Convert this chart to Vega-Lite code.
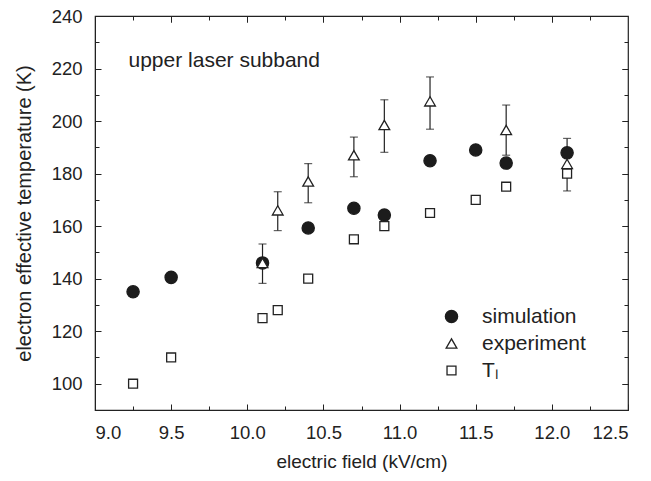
{
  "$schema": "https://vega.github.io/schema/vega-lite/v6.json",
  "width": 533,
  "height": 394,
  "autosize": {"type": "none"},
  "padding": {"left": 95, "top": 16, "right": 23, "bottom": 71},
  "background": "white",
  "config": {
    "view": {"stroke": "#222", "strokeWidth": 1.2},
    "font": "Liberation Sans",
    "axis": {"domainColor": "#222", "tickColor": "#222", "labelColor": "#222", "titleColor": "#222", "grid": false, "labelFont": "Liberation Sans", "titleFont": "Liberation Sans", "labelFontSize": 18.5, "titleFontSize": 19, "titleFontWeight": "normal"},
    "legend": {"labelFont": "Liberation Sans", "labelFontSize": 21, "labelColor": "#222"}
  },
  "datasets": {
    "pts": [
      {"field": 9.25, "series": "simulation", "value": 135},
      {"field": 9.5, "series": "simulation", "value": 140.5},
      {"field": 10.1, "series": "simulation", "value": 146},
      {"field": 10.4, "series": "simulation", "value": 159.3},
      {"field": 10.7, "series": "simulation", "value": 166.8},
      {"field": 10.9, "series": "simulation", "value": 164.2},
      {"field": 11.2, "series": "simulation", "value": 184.9},
      {"field": 11.5, "series": "simulation", "value": 189},
      {"field": 11.7, "series": "simulation", "value": 184},
      {"field": 12.1, "series": "simulation", "value": 187.9},
      {"field": 10.1, "series": "experiment", "value": 146, "lo": 138.2, "hi": 153.2},
      {"field": 10.2, "series": "experiment", "value": 166, "lo": 158.3, "hi": 173.1},
      {"field": 10.4, "series": "experiment", "value": 177, "lo": 168.9, "hi": 183.8},
      {"field": 10.7, "series": "experiment", "value": 187, "lo": 178.8, "hi": 193.9},
      {"field": 10.9, "series": "experiment", "value": 198.5, "lo": 188.1, "hi": 208.1},
      {"field": 11.2, "series": "experiment", "value": 207.5, "lo": 196.9, "hi": 216.8},
      {"field": 11.7, "series": "experiment", "value": 196.6, "lo": 187, "hi": 206.1},
      {"field": 12.1, "series": "experiment", "value": 183.7, "lo": 173.4, "hi": 193.4},
      {"field": 9.25, "series": "T_L", "value": 100},
      {"field": 9.5, "series": "T_L", "value": 110},
      {"field": 10.1, "series": "T_L", "value": 125},
      {"field": 10.2, "series": "T_L", "value": 128},
      {"field": 10.4, "series": "T_L", "value": 140},
      {"field": 10.7, "series": "T_L", "value": 155},
      {"field": 10.9, "series": "T_L", "value": 160},
      {"field": 11.2, "series": "T_L", "value": 165},
      {"field": 11.5, "series": "T_L", "value": 170},
      {"field": 11.7, "series": "T_L", "value": 175},
      {"field": 12.1, "series": "T_L", "value": 180}
    ],
    "note": [{"label": "upper laser subband"}]
  },
  "data": {"name": "pts"},
  "resolve": {"axis": {"x": "independent", "y": "independent"}},
  "layer": [
    {
      "transform": [{"filter": "datum.series === 'experiment'"}],
      "mark": {"type": "rule", "color": "#222", "strokeWidth": 1.2},
      "encoding": {
        "x": {"field": "field", "type": "quantitative", "scale": {"domain": [9, 12.5], "nice": false, "zero": false},
              "axis": {"orient": "top", "values": [9.5, 10, 10.5, 11, 11.5, 12], "labels": false, "domain": false, "tickSize": -6, "title": null}},
        "y": {"field": "lo", "type": "quantitative", "scale": {"domain": [90, 240], "nice": false, "zero": false},
              "axis": {"orient": "right", "values": [100, 120, 140, 160, 180, 200, 220], "labels": false, "domain": false, "tickSize": -6, "title": null}},
        "y2": {"field": "hi"}
      }
    },
    {
      "transform": [{"filter": "datum.series === 'experiment'"}],
      "mark": {"type": "tick", "orient": "horizontal", "size": 8, "thickness": 1.2, "color": "#222"},
      "encoding": {
        "x": {"field": "field", "type": "quantitative",
              "axis": {"orient": "top", "values": [9.25, 9.75, 10.25, 10.75, 11.25, 11.75, 12.25], "labels": false, "domain": false, "tickSize": -4, "title": null}},
        "y": {"field": "hi", "type": "quantitative",
              "axis": {"orient": "right", "values": [110, 130, 150, 170, 190, 210, 230], "labels": false, "domain": false, "tickSize": -4, "title": null}}
      }
    },
    {
      "transform": [{"filter": "datum.series === 'experiment'"}],
      "mark": {"type": "tick", "orient": "horizontal", "size": 8, "thickness": 1.2, "color": "#222"},
      "encoding": {
        "x": {"field": "field", "type": "quantitative",
              "axis": {"orient": "bottom", "values": [9.25, 9.75, 10.25, 10.75, 11.25, 11.75, 12.25], "labels": false, "domain": false, "tickSize": -4, "title": null}},
        "y": {"field": "lo", "type": "quantitative",
              "axis": {"orient": "left", "values": [110, 130, 150, 170, 190, 210, 230], "labels": false, "domain": false, "tickSize": -4, "title": null}}
      }
    },
    {
      "mark": {"type": "point", "strokeWidth": 1.3, "opacity": 1},
      "encoding": {
        "x": {"field": "field", "type": "quantitative",
              "axis": {"orient": "bottom", "values": [9, 9.5, 10, 10.5, 11, 11.5, 12, 12.5], "format": ".1f", "tickSize": -6, "labelPadding": 19, "title": "electric field (kV/cm)", "titlePadding": 11}},
        "y": {"field": "value", "type": "quantitative",
              "axis": {"orient": "left", "values": [100, 120, 140, 160, 180, 200, 220, 240], "tickSize": -6, "labelPadding": 19, "title": "electron effective temperature (K)", "titleFontSize": 20, "titlePadding": 17}},
        "shape": {"field": "series", "type": "nominal", "scale": {"domain": ["simulation", "experiment", "T_L"], "range": ["circle", "triangle-up", "square"]},
                  "legend": {"title": null, "orient": "none", "legendX": 346, "legendY": 290, "labelOffset": 20, "rowPadding": 5, "symbolStrokeWidth": 1.3, "labelExpr": "datum.label === 'T_L' ? 'Tₗ' : datum.label",
                             "encode": {"labels": {"update": {"font": {"signal": "datum.label === 'T_L' ? 'Noto Sans' : 'Liberation Sans'"}, "fill": {"value": "#222"}}}}}},
        "fill": {"field": "series", "type": "nominal", "scale": {"domain": ["simulation", "experiment", "T_L"], "range": ["#1c1c1c", "white", "white"]}},
        "stroke": {"field": "series", "type": "nominal", "scale": {"domain": ["simulation", "experiment", "T_L"], "range": ["#1c1c1c", "#222", "#222"]}},
        "size": {"field": "series", "type": "nominal", "scale": {"domain": ["simulation", "experiment", "T_L"], "range": [150, 80, 70]}}
      }
    },
    {
      "data": {"name": "note"},
      "mark": {"type": "text", "align": "left", "baseline": "middle", "fontSize": 21, "font": "Liberation Sans", "color": "#222"},
      "encoding": {
        "text": {"field": "label"},
        "x": {"datum": 9.22, "type": "quantitative", "axis": {"orient": "top", "values": [9.5, 10, 10.5, 11, 11.5, 12], "labels": false, "domain": false, "tickSize": -6, "title": null}},
        "y": {"datum": 222.8, "type": "quantitative", "axis": {"orient": "right", "values": [100, 120, 140, 160, 180, 200, 220], "labels": false, "domain": false, "tickSize": -6, "title": null}}
      }
    }
  ]
}
